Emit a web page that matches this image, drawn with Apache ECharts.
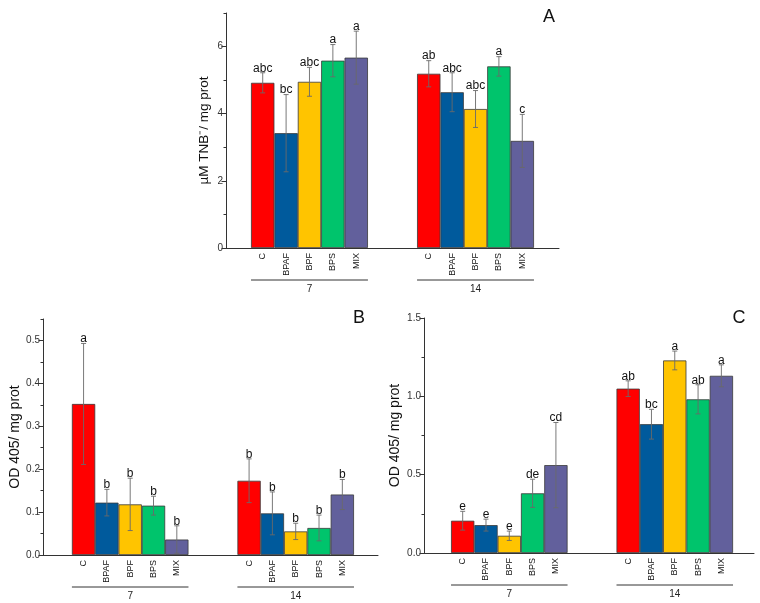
<!DOCTYPE html>
<html>
<head>
<meta charset="utf-8">
<script src="https://cdn.jsdelivr.net/npm/echarts@6/dist/echarts.min.js"></script>
<style>html,body{margin:0;padding:0;background:#fff}#c{width:760px;height:603px}</style>
</head>
<body>
<div id="c"></div>
<script>
// ---------- data ----------
const treatments = ['C', 'BPAF', 'BPF', 'BPS', 'MIX'];
const days = ['7', '14'];
const colors = ['#FF0000', '#005A9C', '#FFC400', '#00C46C', '#62609C'];

// Panel A  (µM TNB-/ mg prot)
const aMean7 = [4.92, 3.42, 4.95, 5.58, 5.67];
const aErr7 = [0.30, 1.15, 0.43, 0.48, 0.79];
const aLet7 = ['abc', 'bc', 'abc', 'a', 'a'];
const aMean14 = [5.19, 4.64, 4.14, 5.41, 3.19];
const aErr14 = [0.39, 0.58, 0.55, 0.29, 0.79];
const aLet14 = ['ab', 'abc', 'abc', 'a', 'c'];
const aTicks = [0, 2, 4, 6];

// Panel B  (OD 405/ mg prot)
const bMean7 = [0.352, 0.122, 0.118, 0.115, 0.036];
const bErr7 = [0.141, 0.031, 0.061, 0.022, 0.032];
const bLet7 = ['a', 'b', 'b', 'b', 'b'];
const bMean14 = [0.173, 0.097, 0.055, 0.063, 0.141];
const bErr14 = [0.051, 0.050, 0.019, 0.030, 0.035];
const bLet14 = ['b', 'b', 'b', 'b', 'b'];
const bTicks = [0, 0.1, 0.2, 0.3, 0.4, 0.5];

// Panel C  (OD 405/ mg prot)
const cMean7 = [0.206, 0.178, 0.110, 0.381, 0.561];
const cErr7 = [0.060, 0.038, 0.030, 0.090, 0.272];
const cLet7 = ['e', 'e', 'e', 'de', 'cd'];
const cMean14 = [1.049, 0.822, 1.229, 0.981, 1.131];
const cErr14 = [0.050, 0.095, 0.060, 0.093, 0.070];
const cLet14 = ['ab', 'bc', 'a', 'ab', 'a'];
const cTicks = [0, 0.5, 1.0, 1.5];

// ---------- build ----------
const FONT = '"Liberation Sans", Arial, sans-serif';
const GROUP_GAP = 2.1; // empty space between day groups, in bar widths
// position of each bar on the x scale (one unit = one bar width)
const posOf = days.map((d, di) => treatments.map((t, ti) => di * (treatments.length + GROUP_GAP) + ti));
const allPos = [].concat(...posOf);
const labelAt = v => {
  let best = '', bd = 1e9;
  days.forEach((d, di) => treatments.forEach((t, ti) => {
    const dd = Math.abs(posOf[di][ti] - v);
    if (dd < bd) { bd = dd; best = t; }
  }));
  return bd < 0.01 ? best : '';
};
const lastPos = posOf[days.length - 1][treatments.length - 1];

const panels = [
  { grid: { left: 226, top: 13, width: 333, height: 235 }, padL: 1.07, padR: 1.07,
    max: 7, minor: 1, major: 2, ticks: aTicks,
    fmt: v => String(v), name: 'µM TNB⁻/ mg prot', nameGap: 15, nameSize: 13.5,
    means: [aMean7, aMean14], errs: [aErr7, aErr14], lets: [aLet7, aLet14], tag: 'A', tagPos: [549, 17] },
  { grid: { left: 43, top: 319, width: 335, height: 236 }, padL: 1.24, padR: 1.03,
    max: 0.55, minor: 0.05, major: 0.1, ticks: bTicks,
    fmt: v => v.toFixed(1), name: 'OD 405/ mg prot', nameGap: 21, nameSize: 14,
    means: [bMean7, bMean14], errs: [bErr7, bErr14], lets: [bLet7, bLet14], tag: 'B', tagPos: [359, 318] },
  { grid: { left: 424, top: 318, width: 330, height: 235 }, padL: 1.16, padR: 0.9,
    max: 1.5, minor: 0.25, major: 0.5, ticks: cTicks,
    fmt: v => v.toFixed(1), name: 'OD 405/ mg prot', nameGap: 22, nameSize: 14,
    means: [cMean7, cMean14], errs: [cErr7, cErr14], lets: [cLet7, cLet14], tag: 'C', tagPos: [739, 318] }
];

const grid = [], xAxis = [], yAxis = [], series = [], graphic = [];
panels.forEach((p, g) => {
  grid.push(p.grid);
  xAxis.push({
    type: 'value', gridIndex: g, min: -0.5 - p.padL, max: lastPos + 0.5 + p.padR,
    axisLine: { onZero: false, lineStyle: { color: '#333', width: 1 } },
    axisTick: { show: false }, splitLine: { show: false },
    axisLabel: { customValues: allPos, rotate: 90, fontSize: 9, color: '#111', margin: 5,
      formatter: v => labelAt(v), showMinLabel: true, showMaxLabel: true, hideOverlap: false }
  });
  const yMinor = yAxis.length;
  yAxis.push({
    type: 'value', gridIndex: g, min: 0, max: p.max, interval: p.minor, position: 'left',
    axisLine: { show: true, onZero: false, lineStyle: { color: '#333', width: 1 } },
    axisTick: { show: true, length: 2.5, lineStyle: { color: '#333' } },
    axisLabel: { show: false }, splitLine: { show: false }
  });
  yAxis.push({
    type: 'value', gridIndex: g, min: 0, max: p.max, interval: p.major, position: 'left',
    axisLine: { show: false, onZero: false },
    axisTick: { show: true, length: 4.5, customValues: p.ticks, lineStyle: { color: '#333' } },
    axisLabel: { customValues: p.ticks, formatter: p.fmt, fontSize: 10, color: '#333', margin: 3 },
    splitLine: { show: false },
    name: p.name, nameLocation: 'middle', nameGap: p.nameGap,
    nameTextStyle: { fontSize: p.nameSize, color: '#111' }
  });

  const barData = [], errData = [], errLetters = [];
  days.forEach((d, di) => {
    treatments.forEach((t, ti) => {
      const x = posOf[di][ti];
      barData.push({ value: [x, p.means[di][ti]], itemStyle: { color: colors[ti] } });
      errData.push([x, p.means[di][ti], p.errs[di][ti]]);
      errLetters.push(p.lets[di][ti]);
    });
  });
  series.push({
    type: 'bar', xAxisIndex: g, yAxisIndex: yMinor, barWidth: '100%', data: barData, z: 2,
    itemStyle: { borderColor: '#3a3a3a', borderWidth: 0.8 }, silent: true
  });
  // error bars + significance letters
  series.push({
    type: 'custom', xAxisIndex: g, yAxisIndex: yMinor, data: errData, encode: { x: 0, y: 1 }, silent: true, z: 5,
    renderItem: (params, api) => {
      const x = api.value(0), m = api.value(1), e = api.value(2);
      const top = api.coord([x, m + e]), bot = api.coord([x, m - e]);
      const cw = 2.5, st = { stroke: '#6a6a6a', lineWidth: 0.9 };
      return { type: 'group', children: [
        { type: 'line', shape: { x1: top[0], y1: top[1], x2: bot[0], y2: bot[1] }, style: st },
        { type: 'line', shape: { x1: top[0] - cw, y1: top[1], x2: top[0] + cw, y2: top[1] }, style: st },
        { type: 'line', shape: { x1: bot[0] - cw, y1: bot[1], x2: bot[0] + cw, y2: bot[1] }, style: st },
        { type: 'text', x: top[0], y: top[1] + 1.5,
          style: { text: errLetters[params.dataIndex], fill: '#111', font: '12px ' + FONT, align: 'center', verticalAlign: 'bottom' } }
      ] };
    }
  });
  // group underline + day label
  const groupData = days.map((d, di) => [posOf[di][0], posOf[di][treatments.length - 1], 0]);
  series.push({
    type: 'custom', xAxisIndex: g, yAxisIndex: yMinor, data: groupData, encode: { x: [0, 1], y: 2 }, silent: true,
    renderItem: (params, api) => {
      const bw = api.size([1, 0])[0];
      const a = api.coord([api.value(0), 0]), b = api.coord([api.value(1), 0]);
      const y = a[1];
      return { type: 'group', children: [
        { type: 'line', shape: { x1: a[0] - bw / 2, y1: y + 32, x2: b[0] + bw / 2, y2: y + 32 }, style: { stroke: '#333', lineWidth: 1 } },
        { type: 'text', x: (a[0] + b[0]) / 2, y: y + 41,
          style: { text: days[params.dataIndex], fill: '#222', font: '10px ' + FONT, align: 'center', verticalAlign: 'middle' } }
      ] };
    }
  });
  graphic.push({ type: 'text', x: p.tagPos[0], y: p.tagPos[1],
    style: { text: p.tag, fill: '#111', font: '18px ' + FONT, align: 'center', verticalAlign: 'middle' } });
});

const chart = echarts.init(document.getElementById('c'), null, { renderer: 'canvas' });
chart.setOption({
  animation: false,
  backgroundColor: '#fff',
  textStyle: { fontFamily: FONT },
  grid, xAxis, yAxis, series, graphic
});
</script>
</body>
</html>
